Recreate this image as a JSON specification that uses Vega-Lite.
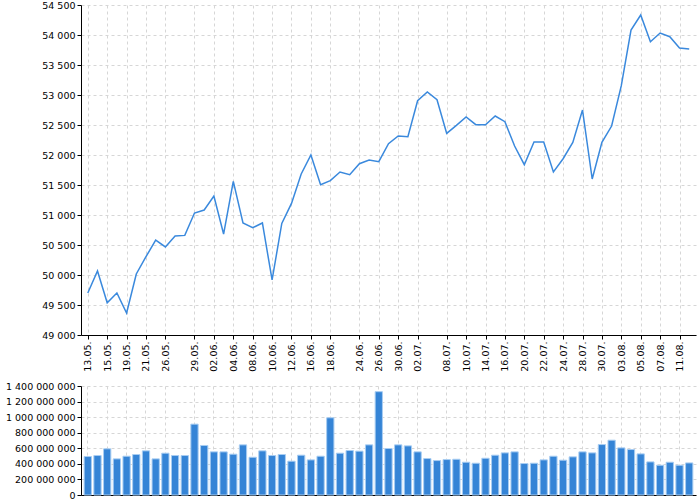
{
  "$schema": "https://vega.github.io/schema/vega-lite/v6.json",
  "padding": {"left": 5, "top": 0, "right": 5, "bottom": 4},
  "data": {
    "values": [
      {"d": "13.05.", "close": 49700, "volume": 494000000},
      {"d": "14.05.", "close": 50067, "volume": 507000000},
      {"d": "15.05.", "close": 49538, "volume": 593000000},
      {"d": "18.05.", "close": 49700, "volume": 464000000},
      {"d": "19.05.", "close": 49367, "volume": 498000000},
      {"d": "20.05.", "close": 50017, "volume": 520000000},
      {"d": "21.05.", "close": 50305, "volume": 567000000},
      {"d": "22.05.", "close": 50583, "volume": 464000000},
      {"d": "26.05.", "close": 50467, "volume": 537000000},
      {"d": "27.05.", "close": 50650, "volume": 507000000},
      {"d": "28.05.", "close": 50660, "volume": 507000000},
      {"d": "29.05.", "close": 51033, "volume": 910000000},
      {"d": "01.06.", "close": 51083, "volume": 636000000},
      {"d": "02.06.", "close": 51317, "volume": 554000000},
      {"d": "03.06.", "close": 50683, "volume": 554000000},
      {"d": "04.06.", "close": 51560, "volume": 524000000},
      {"d": "05.06.", "close": 50867, "volume": 644000000},
      {"d": "08.06.", "close": 50788, "volume": 485000000},
      {"d": "09.06.", "close": 50867, "volume": 567000000},
      {"d": "10.06.", "close": 49917, "volume": 507000000},
      {"d": "11.06.", "close": 50860, "volume": 520000000},
      {"d": "12.06.", "close": 51193, "volume": 434000000},
      {"d": "15.06.", "close": 51683, "volume": 511000000},
      {"d": "16.06.", "close": 52000, "volume": 451000000},
      {"d": "17.06.", "close": 51505, "volume": 498000000},
      {"d": "18.06.", "close": 51572, "volume": 992000000},
      {"d": "19.06.", "close": 51717, "volume": 537000000},
      {"d": "22.06.", "close": 51672, "volume": 571000000},
      {"d": "24.06.", "close": 51855, "volume": 563000000},
      {"d": "25.06.", "close": 51917, "volume": 644000000},
      {"d": "26.06.", "close": 51888, "volume": 1327000000},
      {"d": "29.06.", "close": 52188, "volume": 597000000},
      {"d": "30.06.", "close": 52317, "volume": 644000000},
      {"d": "01.07.", "close": 52305, "volume": 631000000},
      {"d": "02.07.", "close": 52905, "volume": 554000000},
      {"d": "03.07.", "close": 53050, "volume": 468000000},
      {"d": "06.07.", "close": 52922, "volume": 442000000},
      {"d": "08.07.", "close": 52360, "volume": 455000000},
      {"d": "09.07.", "close": 52493, "volume": 459000000},
      {"d": "10.07.", "close": 52633, "volume": 421000000},
      {"d": "13.07.", "close": 52505, "volume": 408000000},
      {"d": "14.07.", "close": 52505, "volume": 472000000},
      {"d": "15.07.", "close": 52650, "volume": 511000000},
      {"d": "16.07.", "close": 52555, "volume": 541000000},
      {"d": "17.07.", "close": 52150, "volume": 554000000},
      {"d": "20.07.", "close": 51838, "volume": 404000000},
      {"d": "21.07.", "close": 52217, "volume": 408000000},
      {"d": "22.07.", "close": 52217, "volume": 451000000},
      {"d": "23.07.", "close": 51717, "volume": 498000000},
      {"d": "24.07.", "close": 51938, "volume": 447000000},
      {"d": "27.07.", "close": 52210, "volume": 490000000},
      {"d": "28.07.", "close": 52750, "volume": 554000000},
      {"d": "29.07.", "close": 51600, "volume": 541000000},
      {"d": "30.07.", "close": 52210, "volume": 648000000},
      {"d": "31.07.", "close": 52483, "volume": 704000000},
      {"d": "03.08.", "close": 53155, "volume": 605000000},
      {"d": "04.08.", "close": 54083, "volume": 584000000},
      {"d": "05.08.", "close": 54333, "volume": 528000000},
      {"d": "06.08.", "close": 53888, "volume": 425000000},
      {"d": "07.08.", "close": 54033, "volume": 382000000},
      {"d": "10.08.", "close": 53972, "volume": 421000000},
      {"d": "11.08.", "close": 53783, "volume": 382000000},
      {"d": "12.08.", "close": 53767, "volume": 412000000}
    ]
  },
  "spacing": 9,
  "vconcat": [
    {
      "width": 615,
      "height": 330,
      "mark": {"type": "line", "color": "#3a89dd", "strokeWidth": 1.5},
      "encoding": {
        "x": {
          "field": "d", "type": "ordinal", "sort": null,
          "scale": {"type": "point", "padding": 0.7},
          "axis": {
            "title": null, "labelAngle": -90, "grid": true,
            "values": ["13.05.", "15.05.", "19.05.", "21.05.", "26.05.", "29.05.", "02.06.", "04.06.", "08.06.", "10.06.", "12.06.", "16.06.", "18.06.", "24.06.", "26.06.", "30.06.", "02.07.", "08.07.", "10.07.", "14.07.", "16.07.", "20.07.", "22.07.", "24.07.", "28.07.", "30.07.", "03.08.", "05.08.", "07.08.", "11.08."]
          }
        },
        "y": {
          "field": "close", "type": "quantitative",
          "scale": {"domain": [49000, 54500], "zero": false, "nice": false},
          "axis": {
            "title": null,
            "values": [49000, 49500, 50000, 50500, 51000, 51500, 52000, 52500, 53000, 53500, 54000, 54500],
            "labelExpr": "replace(format(datum.value, ','), regexp(',', 'g'), ' ')"
          }
        }
      }
    },
    {
      "width": 615,
      "height": 109,
      "mark": {"type": "bar", "color": "#3584d6", "stroke": "#a8cdf2", "strokeWidth": 1},
      "encoding": {
        "x": {
          "field": "d", "type": "ordinal", "sort": null,
          "scale": {"type": "band", "paddingInner": 0.25, "paddingOuter": 0.325},
          "axis": {
            "title": null, "labels": false, "ticks": false, "grid": true,
            "values": ["13.05.", "15.05.", "19.05.", "21.05.", "26.05.", "29.05.", "02.06.", "04.06.", "08.06.", "10.06.", "12.06.", "16.06.", "18.06.", "24.06.", "26.06.", "30.06.", "02.07.", "08.07.", "10.07.", "14.07.", "16.07.", "20.07.", "22.07.", "24.07.", "28.07.", "30.07.", "03.08.", "05.08.", "07.08.", "11.08."]
          }
        },
        "y": {
          "field": "volume", "type": "quantitative",
          "scale": {"domain": [0, 1400000000], "nice": false},
          "axis": {
            "title": null,
            "values": [0, 200000000, 400000000, 600000000, 800000000, 1000000000, 1200000000, 1400000000],
            "labelExpr": "replace(format(datum.value, ','), regexp(',', 'g'), ' ')"
          }
        }
      }
    }
  ],
  "config": {
    "view": {"stroke": null},
    "axis": {
      "domainColor": "#000000",
      "domainWidth": 1,
      "tickColor": "#000000",
      "tickSize": 4,
      "gridColor": "#d6d6d6",
      "gridDash": [3, 3],
      "labelFont": "DejaVu Sans",
      "labelFontSize": 9.5,
      "labelColor": "#000000",
      "labelPadding": 2
    },
    "axisBand": {"bandPosition": 0.5}
  }
}
